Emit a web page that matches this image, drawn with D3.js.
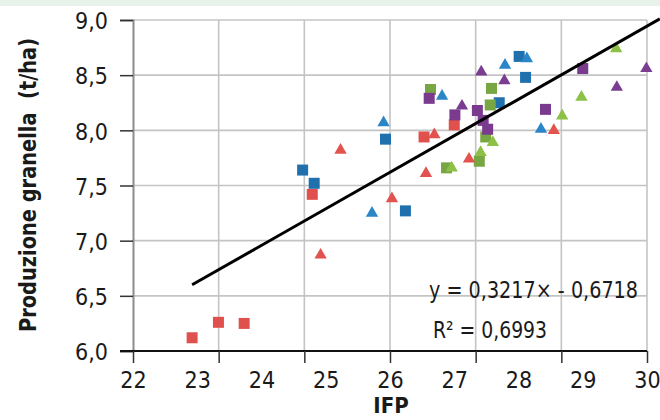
<!DOCTYPE html>
<html>
<head>
<meta charset="utf-8">
<script src="https://cdn.jsdelivr.net/npm/d3@7"></script>
<style>
  body { margin: 0; background: #fff; }
  svg { display: block; }
  text { font-family: "Liberation Sans Narrow", "DejaVu Sans Condensed", "Roboto", sans-serif; fill: #1a1a1a; }
</style>
</head>
<body>
<svg id="chart"></svg>
<script>
// tick labels
const xTicks = [22, 23, 24, 25, 26, 27, 28, 29, 30];
const yTicks = [6.0, 6.5, 7.0, 7.5, 8.0, 8.5, 9.0];

// [IFP, production t/ha]
const redSquares = [[22.92, 6.12], [23.33, 6.26], [23.73, 6.25], [24.79, 7.42], [26.53, 7.94], [27.00, 8.05]];
const redTriangles = [[24.92, 6.87], [25.23, 7.82], [26.03, 7.38], [26.56, 7.61], [26.69, 7.96], [27.23, 7.74], [28.55, 8.00]];
const blueSquares = [[24.64, 7.64], [24.82, 7.52], [25.93, 7.92], [26.24, 7.27], [27.70, 8.25], [28.01, 8.67], [28.11, 8.48]];
const blueTriangles = [[25.72, 7.25], [25.90, 8.07], [26.81, 8.31], [27.79, 8.59], [28.13, 8.65], [28.35, 8.01]];
const greenSquares = [[26.63, 8.37], [26.88, 7.66], [27.39, 7.72], [27.49, 7.94], [27.58, 8.38], [27.56, 8.23]];
const greenTriangles = [[26.96, 7.66], [27.41, 7.80], [27.60, 7.89], [28.68, 8.13], [28.98, 8.30], [29.52, 8.74]];
const purpleSquares = [[26.61, 8.29], [27.01, 8.14], [27.36, 8.18], [27.45, 8.09], [27.52, 8.01], [28.42, 8.19], [29.00, 8.56]];
const purpleTriangles = [[27.12, 8.22], [27.42, 8.53], [27.78, 8.45], [29.53, 8.39], [29.99, 8.56]];

// trend line ends as drawn
const trendLine = [[22.92, 6.60], [30.2, 9.01]];
const equationText = "y = 0,3217× - 0,6718";
const r2Text = "R² = 0,6993";

const width = 660, height = 420;
const margin = { top: 20, right: 13, bottom: 69, left: 133 };

const svg = d3.select("#chart")
    .attr("width", width)
    .attr("height", height);

// thin green strip left over from the page header
svg.append("rect")
    .attr("x", 0).attr("y", 0)
    .attr("width", width).attr("height", 6)
    .attr("fill", "#e7f2ea");

const x = d3.scaleLinear().domain([22, 30]).range([margin.left, width - margin.right]);
const y = d3.scaleLinear().domain([6, 9]).range([height - margin.bottom, margin.top]);

const comma = d => d3.format(".1f")(d).replace(".", ",");

// gridlines: vertical ones split the axis in 6 parts, not on the labels
const xGrid = d3.range(0, 7).map(i => 22 + i * 8 / 6);

svg.append("g")
    .selectAll("line")
    .data(yTicks.filter(d => d > 6))
    .enter().append("line")
    .attr("x1", x(22)).attr("x2", x(30))
    .attr("y1", d => y(d)).attr("y2", d => y(d))
    .attr("stroke", "#c4c4c4")
    .attr("stroke-width", 1.6);

svg.append("g")
    .selectAll("line")
    .data(xGrid.slice(1))
    .enter().append("line")
    .attr("x1", d => x(d)).attr("x2", d => x(d))
    .attr("y1", y(9)).attr("y2", y(6))
    .attr("stroke", "#c4c4c4")
    .attr("stroke-width", 1.6);

// y axis
const yAxis = svg.append("g")
    .attr("transform", `translate(${margin.left},0)`)
    .call(d3.axisLeft(y).tickValues(yTicks).tickFormat(comma).tickSize(13).tickPadding(12));
yAxis.select(".domain").attr("stroke", "#8c8c8c").attr("stroke-width", 2);
yAxis.selectAll(".tick line").attr("stroke", "#333").attr("stroke-width", 1.5);
yAxis.selectAll(".tick text")
    .attr("font-size", 23)
    .attr("dy", "0.38em")
    .style("font-family", null);

// x axis: tick marks on the gridlines, labels on the integers
const xAxisTicks = svg.append("g")
    .attr("transform", `translate(0,${y(6)})`)
    .call(d3.axisBottom(x).tickValues(xGrid).tickFormat("").tickSize(12));
xAxisTicks.select(".domain").attr("stroke", "#111").attr("stroke-width", 2).attr("d", `M${x(22) - 13},0H${x(30)}`);
xAxisTicks.selectAll(".tick line").attr("stroke", "#333").attr("stroke-width", 1.5);

const xAxisLabels = svg.append("g")
    .attr("transform", `translate(0,${y(6)})`)
    .call(d3.axisBottom(x).tickValues(xTicks).tickFormat(d3.format("d")).tickSize(0).tickPadding(21));
xAxisLabels.select(".domain").remove();
xAxisLabels.selectAll(".tick text").attr("font-size", 23);

// axis titles
svg.append("text")
    .attr("x", 391).attr("y", 413)
    .attr("text-anchor", "middle")
    .attr("font-size", 22)
    .attr("font-weight", "bold")
    .text("IFP");

svg.append("text")
    .attr("transform", `translate(36,${185}) rotate(-90)`)
    .attr("text-anchor", "middle")
    .attr("font-size", 23)
    .attr("font-weight", "bold")
    .attr("textLength", 294)
    .attr("lengthAdjust", "spacingAndGlyphs")
    .style("white-space", "pre")
    .text("Produzione granella  (t/ha)");

// markers
const series = [
    { data: redSquares, color: "#e0504c", shape: d3.symbolSquare },
    { data: blueSquares, color: "#1f70ad", shape: d3.symbolSquare },
    { data: greenSquares, color: "#78a642", shape: d3.symbolSquare },
    { data: purpleSquares, color: "#7a3a8e", shape: d3.symbolSquare },
    { data: redTriangles, color: "#e2534f", shape: d3.symbolTriangle },
    { data: blueTriangles, color: "#2a86c6", shape: d3.symbolTriangle },
    { data: greenTriangles, color: "#8cc046", shape: d3.symbolTriangle },
    { data: purpleTriangles, color: "#7b3d92", shape: d3.symbolTriangle }
];

series.forEach(s => {
    const size = s.shape === d3.symbolSquare ? 121 : 66;
    svg.append("g")
        .selectAll("path")
        .data(s.data)
        .enter().append("path")
        .attr("transform", d => `translate(${x(d[0])},${y(d[1])})`)
        .attr("d", d3.symbol().type(s.shape).size(size))
        .attr("fill", s.color);
});

// trend line
svg.append("line")
    .attr("x1", x(trendLine[0][0])).attr("y1", y(trendLine[0][1]))
    .attr("x2", x(trendLine[1][0])).attr("y2", y(trendLine[1][1]))
    .attr("stroke", "#000")
    .attr("stroke-width", 3);

svg.append("text")
    .attr("x", 429).attr("y", 298)
    .attr("font-size", 23)
    .attr("textLength", 209)
    .attr("lengthAdjust", "spacingAndGlyphs")
    .text(equationText);

svg.append("text")
    .attr("x", 433).attr("y", 338)
    .attr("font-size", 23)
    .attr("textLength", 114)
    .attr("lengthAdjust", "spacingAndGlyphs")
    .text(r2Text);
</script>
</body>
</html>
